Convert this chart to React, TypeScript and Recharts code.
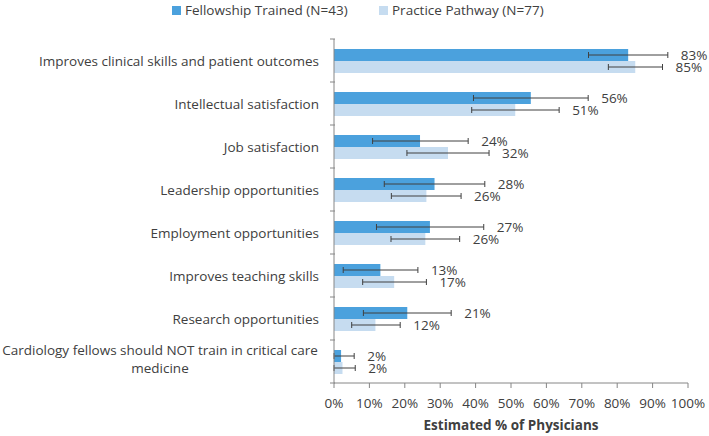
import {
  BarChart,
  Bar,
  XAxis,
  YAxis,
  ErrorBar,
  LabelList,
} from 'recharts';

const FELLOW = '#4BA1DD';
const PRACTICE = '#C6DCF0';
const TEXT = '#404040';
const FONT = '"Open Sans", sans-serif';
const FS = 13.5;

const categories = [
  'Improves clinical skills and patient outcomes',
  'Intellectual satisfaction',
  'Job satisfaction',
  'Leadership opportunities',
  'Employment opportunities',
  'Improves teaching skills',
  'Research opportunities',
  'Cardiology fellows should NOT train in critical care\nmedicine',
];

const fellowship = [83.1, 55.6, 24.3, 28.4, 27.1, 13.1, 20.7, 2.0];
const fellowshipLow = [71.9, 39.4, 10.9, 14.2, 12.0, 2.6, 8.3, 0];
const fellowshipHigh = [94.3, 71.8, 37.9, 42.6, 42.3, 23.7, 33.1, 5.7];

const practice = [85.1, 51.2, 32.2, 26.1, 25.8, 17.0, 11.7, 2.4];
const practiceLow = [77.5, 38.9, 20.6, 16.2, 16.1, 8.1, 5.0, 0];
const practiceHigh = [92.8, 63.6, 43.8, 35.9, 35.5, 26.1, 18.7, 6.0];

const xTicks = [0, 10, 20, 30, 40, 50, 60, 70, 80, 90, 100];

const data = categories.map((name, i) => ({
  name,
  fellowship: fellowship[i],
  fellowshipErr: [fellowship[i] - fellowshipLow[i], fellowshipHigh[i] - fellowship[i]],
  practice: practice[i],
  practiceErr: [practice[i] - practiceLow[i], practiceHigh[i] - practice[i]],
}));

function CategoryTick(props: any) {
  const { x, y, payload, index } = props;
  const half = payload.offset ?? 0;
  const lines = String(payload.value).split('\n');
  return (
    <g>
      <line x1={x + 4} x2={x + 9} y1={y - half} y2={y - half} stroke="#868686" />
      {index === categories.length - 1 && (
        <line x1={x + 4} x2={x + 9} y1={y + half} y2={y + half} stroke="#868686" />
      )}
      {lines.length === 1 ? (
        <text x={x - 7} y={y} textAnchor="end" dominantBaseline="central" fill={TEXT} fontSize={FS} fontFamily={FONT}>
          {lines[0]}
        </text>
      ) : (
        <text x={x - 166} y={y - 12} textAnchor="middle" dominantBaseline="central" fill={TEXT} fontSize={FS} fontFamily={FONT}>
          {lines.map((l, k) => (
            <tspan key={k} x={x - 166} dy={k === 0 ? 0 : 18}>
              {l}
            </tspan>
          ))}
        </text>
      )}
    </g>
  );
}

function makeValueLabel(high: number[]) {
  return (props: any) => {
    const { x, y, width, height, value, index } = props;
    const perUnit = width / value;
    const lx = x + high[index] * perUnit + 13;
    return (
      <text x={lx} y={y + height / 2} textAnchor="start" dominantBaseline="central" fill={TEXT} fontSize={FS} fontFamily={FONT}>
        {`${Math.round(value)}%`}
      </text>
    );
  };
}

function TopLegend() {
  const items = [
    { label: 'Fellowship Trained (N=43)', color: FELLOW, left: 172 },
    { label: 'Practice Pathway (N=77)', color: PRACTICE, left: 379 },
  ];
  return (
    <>
      {items.map((it) => (
        <div
          key={it.label}
          style={{ position: 'absolute', top: 0, left: it.left, height: 20, display: 'flex', alignItems: 'center', fontFamily: FONT, fontSize: FS, color: TEXT, whiteSpace: 'nowrap' }}
        >
          <span style={{ width: 9, height: 9, background: it.color, display: 'inline-block', marginRight: 4 }} />
          {it.label}
        </div>
      ))}
    </>
  );
}

export default function App() {
  return (
    <div style={{ position: 'absolute', left: 0, top: 0, width: 709, height: 436, background: '#fff' }}>
      <BarChart
        width={709}
        height={436}
        data={data}
        layout="vertical"
        margin={{ top: 39, right: 21, bottom: 0, left: 0 }}
        barGap={0}
        barSize={12}
      >
        <XAxis
          type="number"
          domain={[0, 100]}
          ticks={xTicks}
          tickFormatter={(v) => `${v}%`}
          tick={{ fill: TEXT, fontSize: FS, fontFamily: FONT }}
          tickLine={{ stroke: '#868686' }}
          tickSize={5}
          tickMargin={10}
          axisLine={{ stroke: '#868686' }}
          height={53}
          interval={0}
          label={{ value: 'Estimated % of Physicians', position: 'insideBottom', offset: 6, fill: TEXT, fontSize: FS, fontWeight: 700, fontFamily: FONT }}
        />
        <YAxis
          type="category"
          dataKey="name"
          width={334}
          tick={<CategoryTick />}
          tickLine={false}
          axisLine={{ stroke: '#868686' }}
          interval={0}
        />
        <Bar dataKey="fellowship" fill={FELLOW} isAnimationActive={false}>
          <ErrorBar dataKey="fellowshipErr" direction="x" width={3} stroke="#404040" strokeWidth={1} />
          <LabelList dataKey="fellowship" content={makeValueLabel(fellowshipHigh)} />
        </Bar>
        <Bar dataKey="practice" fill={PRACTICE} isAnimationActive={false}>
          <ErrorBar dataKey="practiceErr" direction="x" width={3} stroke="#404040" strokeWidth={1} />
          <LabelList dataKey="practice" content={makeValueLabel(practiceHigh)} />
        </Bar>
      </BarChart>
      <TopLegend />
    </div>
  );
}
